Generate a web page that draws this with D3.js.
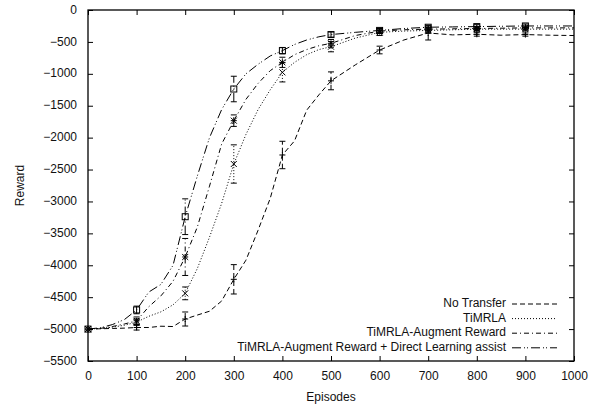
<!DOCTYPE html>
<html>
<head>
<meta charset="utf-8">
<script src="https://cdn.jsdelivr.net/npm/d3@7"></script>
<style>
  body { margin: 0; background: #fff; }
  svg { display: block; }
</style>
</head>
<body>
<div id="chart"></div>
<script>
var episodes = [0, 25, 50, 75, 100, 125, 150, 175, 200, 225, 250, 275, 300, 325, 350, 375, 400,
                425, 450, 475, 500, 550, 600, 650, 700, 750, 800, 850, 900, 950, 1000];

var noTransfer = [-5000, -4995, -4990, -4985, -4975, -4975, -4955, -4960, -4842, -4780, -4720, -4560, -4220,
                  -3920, -3450, -2950, -2272, -2050, -1570, -1330, -1110, -860, -627, -470, -360, -390,
                  -380, -395, -385, -395, -400];
var timrla = [-5000, -4990, -4970, -4940, -4890, -4800, -4730, -4620, -4440, -4050, -3560, -3030, -2413,
              -1950, -1560, -1250, -977, -820, -700, -620, -575, -440, -350, -330, -320, -310,
              -300, -300, -300, -300, -300];
var augment = [-5000, -4990, -4960, -4920, -4870, -4650, -4480, -4250, -3870, -3400, -2760, -2100, -1734,
               -1400, -1150, -950, -820, -700, -620, -560, -522, -400, -330, -310, -300, -295,
               -290, -285, -280, -280, -280];
var direct = [-5000, -4980, -4930, -4850, -4700, -4420, -4300, -4000, -3239, -2600, -2000, -1560, -1238,
              -1000, -850, -720, -637, -540, -470, -420, -385, -350, -320, -290, -270, -265,
              -260, -255, -250, -250, -250];

// error bars every 100 episodes
var barEpisodes = [0, 100, 200, 300, 400, 500, 600, 700, 800, 900];
var noTransferErr = [0, 40, 110, 230, 215, 140, 60, 110, 30, 25];
var timrlaErr = [0, 50, 100, 300, 150, 80, 50, 40, 30, 30];
var augmentErr = [0, 60, 290, 90, 80, 60, 40, 30, 30, 30];
var directErr = [0, 60, 280, 200, 50, 40, 30, 30, 30, 30];

var seriesNames = ["No Transfer", "TiMRLA", "TiMRLA-Augment Reward",
                   "TiMRLA-Augment Reward + Direct Learning assist"];

var xTicks = [0, 100, 200, 300, 400, 500, 600, 700, 800, 900, 1000];
var yTicks = [0, -500, -1000, -1500, -2000, -2500, -3000, -3500, -4000, -4500, -5000, -5500];

var config = {
    width: 594,
    height: 405,
    margin: { left: 88, right: 20, top: 10, bottom: 44 },
    fontFamily: 'Liberation Sans, Arial, Helvetica, sans-serif',
    fontSize: 12,
    tickSize: 5,
    dashes: ["5,3", "1,2", "5,3,1,3", "9,3,1,2,1,3"],
    markers: ["plus", "cross", "star", "box"]
};

var series = [noTransfer, timrla, augment, direct];
var errors = [noTransferErr, timrlaErr, augmentErr, directErr];

var svg = d3.select('#chart').append('svg')
    .attr('width', config.width)
    .attr('height', config.height);

var plotW = config.width - config.margin.left - config.margin.right;
var plotH = config.height - config.margin.top - config.margin.bottom;

var x = d3.scaleLinear().domain([0, 1000]).range([config.margin.left, config.margin.left + plotW]);
var y = d3.scaleLinear().domain([-5500, 0]).range([config.margin.top + plotH, config.margin.top]);

// axes, gnuplot style: ticks inward and mirrored
function styleAxis(g) {
    g.select('.domain').remove();
    g.selectAll('.tick line').attr('stroke', '#000').attr('stroke-width', 1);
    g.selectAll('.tick text')
        .attr('font-family', config.fontFamily)
        .attr('font-size', config.fontSize)
        .attr('fill', '#111');
}

svg.append('g')
    .attr('transform', 'translate(0,' + y(-5500) + ')')
    .call(d3.axisBottom(x).tickValues(xTicks).tickSize(-config.tickSize).tickPadding(16).tickFormat(d3.format('d')))
    .call(styleAxis);
svg.append('g')
    .attr('transform', 'translate(0,' + y(0) + ')')
    .call(d3.axisTop(x).tickValues(xTicks).tickSize(-config.tickSize).tickFormat(''))
    .call(styleAxis);
svg.append('g')
    .attr('transform', 'translate(' + x(0) + ',0)')
    .call(d3.axisLeft(y).tickValues(yTicks).tickSize(-config.tickSize).tickPadding(11).tickFormat(d3.format('d')))
    .call(styleAxis);
svg.append('g')
    .attr('transform', 'translate(' + x(1000) + ',0)')
    .call(d3.axisRight(y).tickValues(yTicks).tickSize(-config.tickSize).tickFormat(''))
    .call(styleAxis);

svg.selectAll('.tick text').attr('dy', null);
svg.selectAll('.tick text').attr('dominant-baseline', 'middle');

// frame
svg.append('rect')
    .attr('x', x(0)).attr('y', y(0))
    .attr('width', x(1000) - x(0)).attr('height', y(-5500) - y(0))
    .attr('fill', 'none').attr('stroke', '#000').attr('stroke-width', 1.3);

// axis titles
svg.append('text')
    .attr('x', (x(0) + x(1000)) / 2).attr('y', 401)
    .attr('text-anchor', 'middle')
    .attr('font-family', config.fontFamily).attr('font-size', config.fontSize)
    .attr('fill', '#111')
    .text('Episodes');
svg.append('text')
    .attr('transform', 'translate(24,' + y(-2750) + ') rotate(-90)')
    .attr('text-anchor', 'middle')
    .attr('font-family', config.fontFamily).attr('font-size', config.fontSize)
    .attr('fill', '#111')
    .text('Reward');

// marker shapes
function drawMarker(g, type, cx, cy) {
    var s = 3;
    if (type == 'plus' || type == 'star') {
        g.append('line').attr('x1', cx - s).attr('x2', cx + s).attr('y1', cy).attr('y2', cy);
        g.append('line').attr('x1', cx).attr('x2', cx).attr('y1', cy - s).attr('y2', cy + s);
    }
    if (type == 'cross' || type == 'star') {
        g.append('line').attr('x1', cx - s).attr('x2', cx + s).attr('y1', cy - s).attr('y2', cy + s);
        g.append('line').attr('x1', cx - s).attr('x2', cx + s).attr('y1', cy + s).attr('y2', cy - s);
    }
    if (type == 'box') {
        g.append('rect').attr('x', cx - s).attr('y', cy - s).attr('width', 2 * s).attr('height', 2 * s)
            .attr('fill', 'none');
    }
}

var line = d3.line()
    .x(function (d, i) { return x(episodes[i]); })
    .y(function (d) { return y(d); });

var plot = svg.append('g');

series.forEach(function (values, k) {
    var g = plot.append('g')
        .attr('stroke', '#000')
        .attr('stroke-width', 1)
        .attr('fill', 'none');

    g.append('path')
        .attr('d', line(values))
        .attr('stroke-dasharray', config.dashes[k]);

    // error bars with caps
    barEpisodes.forEach(function (ep, i) {
        var v = values[episodes.indexOf(ep)];
        var e = errors[k][i];
        var cx = x(ep);
        if (e > 0) {
            g.append('line')
                .attr('x1', cx).attr('x2', cx)
                .attr('y1', y(v - e)).attr('y2', y(v + e))
                .attr('stroke-dasharray', config.dashes[k]);
            g.append('line').attr('x1', cx - 3).attr('x2', cx + 3).attr('y1', y(v - e)).attr('y2', y(v - e));
            g.append('line').attr('x1', cx - 3).attr('x2', cx + 3).attr('y1', y(v + e)).attr('y2', y(v + e));
        }
        drawMarker(g, config.markers[k], cx, y(v));
    });
});

// legend, bottom right
var legend = svg.append('g');
seriesNames.forEach(function (name, k) {
    var ly = 304 + k * 14.6;
    legend.append('text')
        .attr('x', 506).attr('y', ly)
        .attr('dominant-baseline', 'middle')
        .attr('text-anchor', 'end')
        .attr('font-family', config.fontFamily).attr('font-size', config.fontSize)
        .attr('fill', '#111')
        .text(name);
    legend.append('line')
        .attr('x1', 512).attr('x2', 557)
        .attr('y1', ly).attr('y2', ly)
        .attr('stroke', '#000')
        .attr('stroke-dasharray', config.dashes[k]);
});
</script>
</body>
</html>
